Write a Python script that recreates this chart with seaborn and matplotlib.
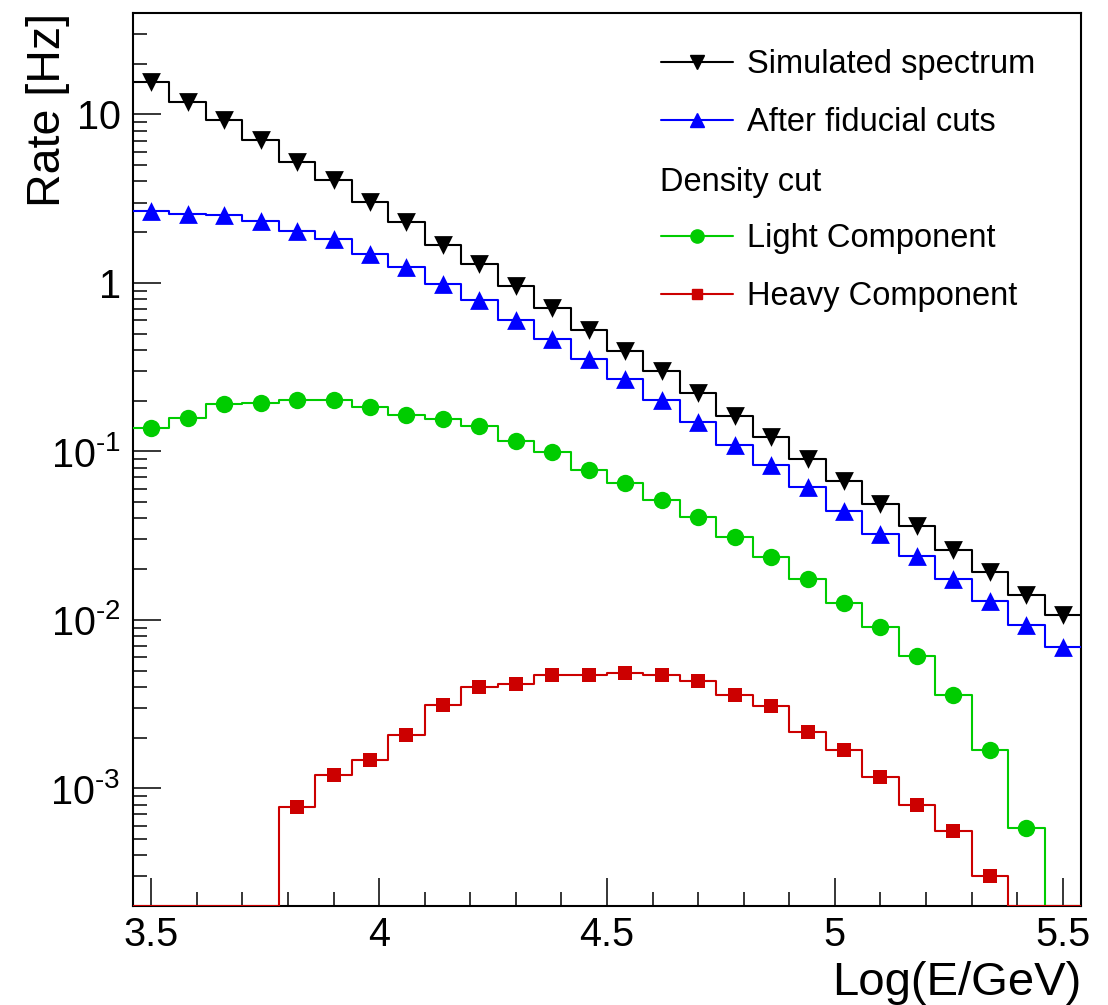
import numpy as np
import matplotlib
matplotlib.use("Agg")
import matplotlib.pyplot as plt
from matplotlib.lines import Line2D
from matplotlib.ticker import FixedLocator, FixedFormatter, LogLocator, NullFormatter, MultipleLocator
import seaborn as sns

# ---------------- data ----------------
bin_edges = np.round(np.arange(3.46, 5.54 + 1e-9, 0.08), 2)
bin_centers = np.round(np.arange(3.50, 5.50 + 1e-9, 0.08), 2)

simulated = [15.5, 11.9, 9.25, 7.05, 5.21, 4.06, 3.03, 2.29, 1.67, 1.30, 0.955, 0.707,
             0.524, 0.394, 0.298, 0.223, 0.163, 0.122, 0.0902, 0.0670, 0.0489, 0.0358,
             0.0260, 0.0192, 0.0140, 0.0107]
fiducial = [2.68, 2.58, 2.52, 2.32, 2.04, 1.83, 1.49, 1.24, 0.98, 0.796, 0.605, 0.467,
            0.355, 0.267, 0.202, 0.149, 0.109, 0.0828, 0.0615, 0.0445, 0.0323, 0.0240,
            0.0174, 0.0129, 0.00935, 0.00689]
light = [0.138, 0.157, 0.190, 0.193, 0.202, 0.201, 0.183, 0.165, 0.156, 0.141, 0.115, 0.0986,
         0.0772, 0.0649, 0.0513, 0.0409, 0.0308, 0.0237, 0.0175, 0.0126, 0.0091, 0.00607,
         0.00356, 0.00168, 0.00058, 0.0]
heavy = [0.0, 0.0, 0.0, 0.0, 7.76e-4, 1.20e-3, 1.48e-3, 2.06e-3, 3.13e-3, 3.97e-3, 4.17e-3,
         4.73e-3, 4.73e-3, 4.80e-3, 4.73e-3, 4.31e-3, 3.56e-3, 3.07e-3, 2.17e-3, 1.68e-3,
         1.17e-3, 8.0e-4, 5.55e-4, 3.03e-4, 0.0, 0.0]

series_labels = ["Simulated spectrum", "After fiducial cuts", "Light Component", "Heavy Component"]
header_label = "Density cut"
x_label = "Log(E/GeV)"
y_label = "Rate [Hz]"
x_ticks = [3.5, 4.0, 4.5, 5.0, 5.5]
x_ticklabels = ["3.5", "4", "4.5", "5", "5.5"]
y_ticks = [1e-3, 1e-2, 1e-1, 1, 10]
y_ticklabels = [r"$10^{\text{-3}}$", r"$10^{\text{-2}}$", r"$10^{\text{-1}}$", "1", "10"]

colors = ["#000000", "#0000ff", "#00cc00", "#cc0000"]
markers = ["v", "^", "o", "s"]
msizes = [13.5, 13.5, 12.5, 10]
leg_msizes = [9.5, 9.5, 9.5, 7.5]

YMIN, YMAX = 2e-4, 40.0
XMIN, XMAX = 3.46, 5.54

# ---------------- style ----------------
sns.set_style("white")
plt.rcParams["font.family"] = ["Liberation Sans", "DejaVu Sans"]
plt.rcParams["mathtext.fontset"] = "custom"
plt.rcParams["mathtext.rm"] = "Liberation Sans"
plt.rcParams["mathtext.it"] = "Liberation Sans:italic"
plt.rcParams["mathtext.bf"] = "Liberation Sans:bold"
plt.rcParams["text.color"] = "black"
plt.rcParams["axes.labelcolor"] = "black"
plt.rcParams["xtick.color"] = "black"
plt.rcParams["ytick.color"] = "black"

fig = plt.figure(figsize=(11.08, 10.05), dpi=100)
ax = fig.add_axes([133 / 1108, 1 - 906 / 1005, (1081 - 133) / 1108, (906 - 13) / 1005])
ax.set_yscale("log")

all_series = [simulated, fiducial, light, heavy]
for vals, col, mk, ms in zip(all_series, colors, markers, msizes):
    v = np.asarray(vals, dtype=float)
    v_line = np.where(v > 0, v, YMIN)
    sns.lineplot(x=bin_edges, y=np.append(v_line, v_line[-1]), ax=ax, color=col,
                 drawstyle="steps-post", estimator=None, sort=False,
                 linewidth=1.5, zorder=3)
    pos = v > 0
    sns.scatterplot(x=bin_centers[pos], y=v[pos], ax=ax, color=col, marker=mk,
                    s=ms ** 2, linewidth=0, zorder=4, legend=False)

ax.set_xlim(XMIN, XMAX)
ax.set_ylim(YMIN, YMAX)

# ticks
ax.xaxis.set_major_locator(FixedLocator(x_ticks))
ax.xaxis.set_major_formatter(FixedFormatter(x_ticklabels))
ax.xaxis.set_minor_locator(MultipleLocator(0.1))
ax.yaxis.set_major_locator(FixedLocator(y_ticks))
ax.yaxis.set_major_formatter(FixedFormatter(y_ticklabels))
ax.yaxis.set_minor_locator(LogLocator(base=10, subs=np.arange(2, 10), numticks=20))
ax.yaxis.set_minor_formatter(NullFormatter())
ax.tick_params(which="both", direction="in", bottom=True, left=True, top=False, right=False,
               colors="black", width=1.1, labelsize=28.5)
ax.tick_params(which="major", length=20)
ax.tick_params(which="minor", length=10)
ax.tick_params(axis="x", pad=7)
ax.tick_params(axis="y", pad=9)

for sp in ax.spines.values():
    sp.set_linewidth(1.5)
    sp.set_color("black")
    sp.set_visible(True)

ax.set_xlabel(x_label, fontsize=34, loc="right")
ax.xaxis.set_label_coords(1.0, -0.062)
ax.set_ylabel(y_label, fontsize=33.5, loc="top")
ax.yaxis.set_label_coords(-0.066, 1.0)

# legend
handles = []
labels = []
for i, (col, mk, ms) in enumerate(zip(colors, markers, leg_msizes)):
    if i == 2:
        handles.append(Line2D([], [], color="none"))
        labels.append(" ")
    handles.append(Line2D([], [], color=col, marker=mk, markersize=ms, linewidth=1.5))
    labels.append(series_labels[i])

leg = ax.legend(handles, labels, loc="upper left", bbox_to_anchor=(661 / 1108, 1 - 49 / 1005),
                bbox_transform=fig.transFigure, frameon=False, fontsize=23.5,
                handlelength=2.2, handletextpad=0.42, labelspacing=0.83,
                borderpad=0, borderaxespad=0)
fig.text(660 / 1108, 1 - 182 / 1005, header_label, fontsize=23.5, va="center", ha="left")

fig.savefig("out.png", dpi=100)
